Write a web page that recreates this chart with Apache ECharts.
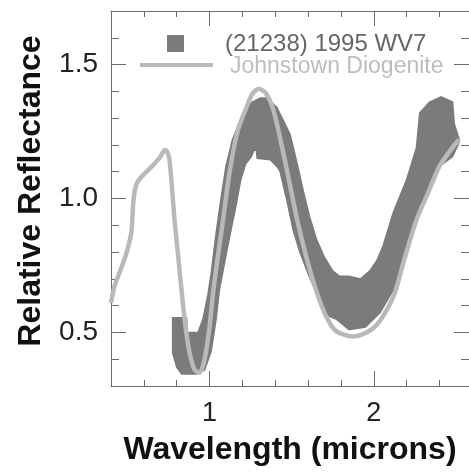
<!DOCTYPE html>
<html><head><meta charset="utf-8">
<script src="https://cdn.jsdelivr.net/npm/echarts@6/dist/echarts.min.js"></script>
<style>html,body{margin:0;padding:0;background:#fff}#c{width:469px;height:474px}</style>
</head><body><div id="c"></div>
<script>
// ---- data ----
const xTickLabels = [1, 2];
const yTickLabels = [0.5, 1.0, 1.5];
const seriesNames = ['(21238) 1995 WV7', 'Johnstown Diogenite'];

// Johnstown Diogenite spectrum: [wavelength (microns), relative reflectance]
const diogenite = [
  [0.40,0.61],[0.42,0.67],[0.45,0.72],[0.48,0.77],[0.505,0.82],[0.525,0.88],
  [0.535,0.98],[0.545,1.03],[0.56,1.06],[0.60,1.09],[0.665,1.13],[0.70,1.155],
  [0.726,1.18],[0.735,1.18],[0.756,1.145],[0.787,0.92],[0.817,0.735],[0.848,0.55],
  [0.878,0.425],[0.91,0.36],[0.94,0.35],[0.97,0.40],[1.00,0.52],[1.02,0.64],
  [1.05,0.78],[1.08,0.91],[1.12,1.09],[1.17,1.25],[1.225,1.34],[1.26,1.39],
  [1.30,1.41],[1.34,1.395],[1.378,1.35],[1.41,1.28],[1.47,1.11],[1.53,0.93],
  [1.59,0.78],[1.65,0.655],[1.71,0.56],[1.77,0.505],[1.87,0.485],
  [1.957,0.50],[2.02,0.53],[2.08,0.585],[2.13,0.65],[2.18,0.76],[2.26,0.92],
  [2.33,1.02],[2.40,1.12],[2.48,1.19],[2.52,1.22]
];

// (21238) 1995 WV7: upper and lower envelope of the data band
const asteroidUpper = [
  [0.775,0.555],[0.86,0.555],[0.865,0.50],[0.93,0.50],[0.96,0.55],[0.99,0.64],
  [1.01,0.72],[1.04,0.87],[1.07,1.00],[1.10,1.12],[1.14,1.22],[1.20,1.31],
  [1.26,1.36],[1.31,1.375],[1.35,1.375],[1.41,1.34],[1.45,1.29],[1.49,1.24],
  [1.53,1.14],[1.57,1.03],[1.61,0.93],[1.65,0.85],[1.70,0.78],[1.75,0.73],
  [1.79,0.71],[1.85,0.71],[1.92,0.70],[1.976,0.73],[2.02,0.77],[2.055,0.82],
  [2.12,0.95],[2.20,1.07],[2.26,1.19],[2.28,1.32],[2.34,1.36],[2.41,1.38],
  [2.48,1.36],[2.49,1.28],[2.52,1.22]
];
const asteroidLower = [
  [0.775,0.425],[0.80,0.37],[0.83,0.345],[0.92,0.345],[0.97,0.36],[1.01,0.43],
  [1.04,0.55],[1.06,0.66],[1.12,0.85],[1.16,0.97],[1.19,1.07],[1.22,1.13],
  [1.256,1.157],[1.27,1.18],[1.285,1.18],[1.29,1.15],[1.37,1.145],[1.41,1.12],
  [1.43,1.10],[1.47,0.996],[1.51,0.88],[1.55,0.80],[1.60,0.72],[1.67,0.62],
  [1.73,0.56],[1.77,0.55],[1.85,0.51],[1.95,0.52],[2.04,0.575],[2.12,0.66],
  [2.20,0.80],[2.28,0.95],[2.36,1.07],[2.40,1.12],[2.48,1.157],[2.52,1.21]
];

// ---- chart ----
const FONT = '"Liberation Sans", Arial, Helvetica, sans-serif';
const AX = '#6a6a6a';
const BAND = '#7b7b7b';
const LIGHT = '#b9b9b9';
const gridBox = {left:111, right:0, top:11, bottom:88, containLabel:false};
const XR = {min:0.4, max:2.58};
const YR = {min:0.3, max:1.7};

function xAx(grid, pos, opts){
  return Object.assign({
    type:'value', gridIndex:grid, position:pos, min:XR.min, max:XR.max,
    splitLine:{show:false},
    axisLine:{show:false},
    axisTick:{show:true, inside:true, length:6, lineStyle:{color:AX, width:1}},
    axisLabel:{show:false}
  }, opts);
}
function yAx(grid, pos, opts){
  return Object.assign({
    type:'value', gridIndex:grid, position:pos, min:YR.min, max:YR.max,
    splitLine:{show:false},
    axisLine:{show:false},
    axisTick:{show:true, inside:true, length:8, lineStyle:{color:AX, width:1}},
    axisLabel:{show:false}
  }, opts);
}

const chart = echarts.init(document.getElementById('c'));
chart.setOption({
  animation:false,
  backgroundColor:'#ffffff',
  grid:[Object.assign({}, gridBox), Object.assign({}, gridBox)],
  xAxis:[
    xAx(0,'bottom',{
      interval:0.2,
      axisLine:{show:true, lineStyle:{color:AX, width:1}},
      axisLabel:{show:true, customValues:xTickLabels, formatter:v=>String(Math.round(v)),
        fontFamily:FONT, fontSize:27, color:'#222', margin:14},
      name:'Wavelength (microns)', nameLocation:'middle', nameGap:48,
      nameTextStyle:{fontFamily:FONT, fontSize:32, fontWeight:'bold', color:'#111'}
    }),
    xAx(0,'top',{interval:0.2, axisLine:{show:true, lineStyle:{color:AX, width:1}}}),
    xAx(1,'bottom',{axisTick:{show:true, inside:true, length:15, customValues:xTickLabels, lineStyle:{color:AX, width:1}}}),
    xAx(1,'top',{axisTick:{show:true, inside:true, length:15, customValues:xTickLabels, lineStyle:{color:AX, width:1}}})
  ],
  yAxis:[
    yAx(0,'left',{
      interval:0.1,
      axisLine:{show:true, lineStyle:{color:AX, width:1}},
      axisLabel:{show:true, customValues:yTickLabels, formatter:v=>v.toFixed(1),
        fontFamily:FONT, fontSize:28, color:'#222', margin:13},
      name:'Relative Reflectance', nameLocation:'middle', nameGap:64,
      nameTextStyle:{fontFamily:FONT, fontSize:32, fontWeight:'bold', color:'#111', padding:[0,0,0,15]}
    }),
    yAx(0,'right',{interval:0.1, axisLine:{show:true, lineStyle:{color:AX, width:1}}}),
    yAx(1,'left',{axisTick:{show:true, inside:true, length:15, customValues:yTickLabels, lineStyle:{color:AX, width:1}}}),
    yAx(1,'right',{axisTick:{show:true, inside:true, length:15, customValues:yTickLabels, lineStyle:{color:AX, width:1}}})
  ],
  series:[
    {
      name:seriesNames[0], type:'custom', xAxisIndex:0, yAxisIndex:0, z:2,
      data:[asteroidUpper[0]],
      renderItem:function(params, api){
        const pts = [];
        for (let i=0;i<asteroidUpper.length;i++) pts.push(api.coord(asteroidUpper[i]));
        for (let i=asteroidLower.length-1;i>=0;i--) pts.push(api.coord(asteroidLower[i]));
        return {type:'polygon', shape:{points:pts}, style:{fill:BAND, stroke:BAND, lineWidth:1.5}};
      }
    },
    {
      name:seriesNames[1], type:'line', xAxisIndex:0, yAxisIndex:0, z:5,
      data:diogenite, smooth:0.25, showSymbol:false, symbol:'none',
      lineStyle:{color:LIGHT, width:4.5}
    }
  ],
  graphic:[
    {type:'rect', left:167, top:35, shape:{width:17, height:17}, style:{fill:BAND}},
    {type:'line', shape:{x1:140, y1:65, x2:213, y2:65}, style:{stroke:LIGHT, lineWidth:4}},
    {type:'text', x:225, y:44, style:{text:seriesNames[0], fill:'#666', font:'24px ' + FONT, textVerticalAlign:'middle', verticalAlign:'middle'}},
    {type:'text', x:230, y:67, style:{text:seriesNames[1], fill:'#bdbdbd', font:'23px ' + FONT, textVerticalAlign:'middle', verticalAlign:'middle'}}
  ]
});
</script>
</body></html>
